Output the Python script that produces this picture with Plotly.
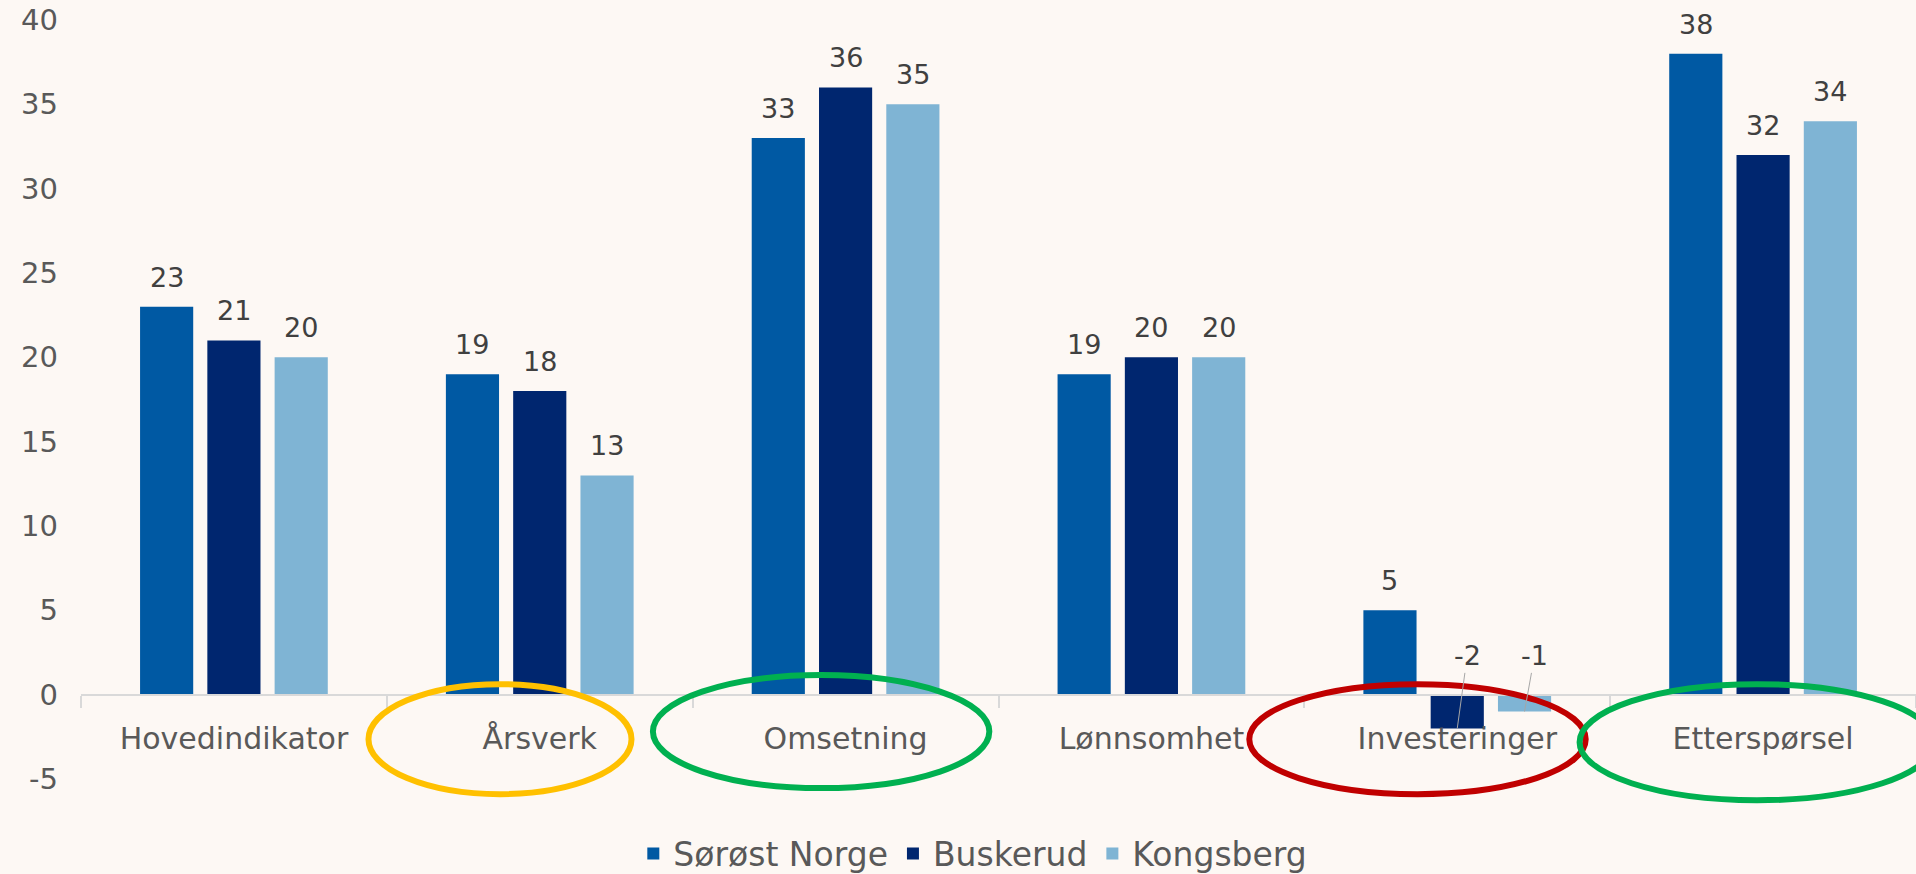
import plotly.graph_objects as go

# Data
categories = ["Hovedindikator", "Årsverk", "Omsetning", "Lønnsomhet", "Investeringer", "Etterspørsel"]
series_names = ["Sørøst Norge", "Buskerud", "Kongsberg"]
sorost_norge = [23, 19, 33, 19, 5, 38]
buskerud = [21, 18, 36, 20, -2, 32]
kongsberg = [20, 13, 35, 20, -1, 34]
y_ticks = [-5, 0, 5, 10, 15, 20, 25, 30, 35, 40]

series_values = [sorost_norge, buskerud, kongsberg]
colors = ["#0059A3", "#00266F", "#7FB4D4"]

# highlighted categories (colour rings drawn around the labels)
highlights = [
    ("Årsverk", "#FFC000", -0.56, 0.30, -0.020, 0.125),
    ("Omsetning", "#00B050", -0.63, 0.47, -0.012, 0.137),
    ("Investeringer", "#C00000", -0.68, 0.42, -0.020, 0.125),
    ("Etterspørsel", "#00B050", -0.60, 0.56, -0.028, 0.125),
]

FONT = "DejaVu Sans"
BG = "#FDF8F4"
BARGAP = 0.34

fig = go.Figure()
for name, vals, col in zip(series_names, series_values, colors):
    fig.add_trace(go.Bar(
        x=categories, y=vals, name=name,
        marker=dict(color=col, line=dict(width=0)),
    ))

# data labels
n_ser = len(series_names)
slot = (1 - BARGAP) / n_ser
annotations = []
for s, vals in enumerate(series_values):
    off = (s - (n_ser - 1) / 2) * slot
    for i, v in enumerate(vals):
        xpos = i + off
        if v >= 0:
            annotations.append(dict(
                x=xpos, y=v, xref="x", yref="y", text=str(v),
                showarrow=False, yanchor="bottom", yshift=12,
                font=dict(family=FONT, size=27, color="#404040"),
            ))
        else:
            # label lifted above the axis with a leader line
            annotations.append(dict(
                x=xpos, y=v, xref="x", yref="y", text=str(v),
                showarrow=True, arrowhead=0, arrowwidth=1, arrowcolor="#A6A6A6",
                axref="pixel", ax=10, ayref="y", ay=2.3,
                standoff=0, startstandoff=0,
                font=dict(family=FONT, size=27, color="#404040"),
            ))

shapes = []
n_cat = len(categories)
for cat, col, left, right, bottom, top in highlights:
    idx = categories.index(cat)
    shapes.append(dict(
        type="circle", xref="x domain", yref="paper",
        x0=(idx + 0.5 + left) / n_cat, x1=(idx + 0.5 + right) / n_cat,
        y0=bottom, y1=top,
        line=dict(color=col, width=6),
    ))

fig.update_layout(
    width=1916, height=874,
    barmode="group",
    bargap=BARGAP,
    bargroupgap=0.21,
    plot_bgcolor=BG,
    paper_bgcolor=BG,
    font=dict(family=FONT, size=26, color="#595959"),
    margin=dict(l=81, r=0, t=20, b=95, autoexpand=False),
    annotations=annotations,
    shapes=shapes,
    showlegend=True,
    legend=dict(
        orientation="h", x=0.486, xanchor="center", y=-0.135, yanchor="bottom",
        font=dict(family=FONT, size=33, color="#595959"),
        bgcolor="rgba(0,0,0,0)", itemclick=False,
    ),
    xaxis=dict(
        anchor="free",
        position=(0 - y_ticks[0]) / (y_ticks[-1] - y_ticks[0]),
        showline=True, linecolor="#D9D9D9", linewidth=2,
        ticks="outside", tickson="boundaries", ticklen=12, tickcolor="#D9D9D9",
        tickwidth=1.5, showgrid=False, zeroline=False,
        tickfont=dict(family=FONT, size=30, color="#595959"),
        ticklabelstandoff=17, automargin=False,
        fixedrange=True,
    ),
    yaxis=dict(
        range=[y_ticks[0], y_ticks[-1]],
        tickvals=y_ticks, ticktext=[str(t) for t in y_ticks],
        showgrid=False, zeroline=False, showline=False,
        ticks="", ticklabelstandoff=22, automargin=False,
        tickfont=dict(family=FONT, size=29, color="#595959"),
        fixedrange=True,
    ),
)

fig.write_html(
    "out.html",
    config={"displayModeBar": False},
    post_script="document.body.style.margin='0';document.body.style.overflow='hidden';",
)
